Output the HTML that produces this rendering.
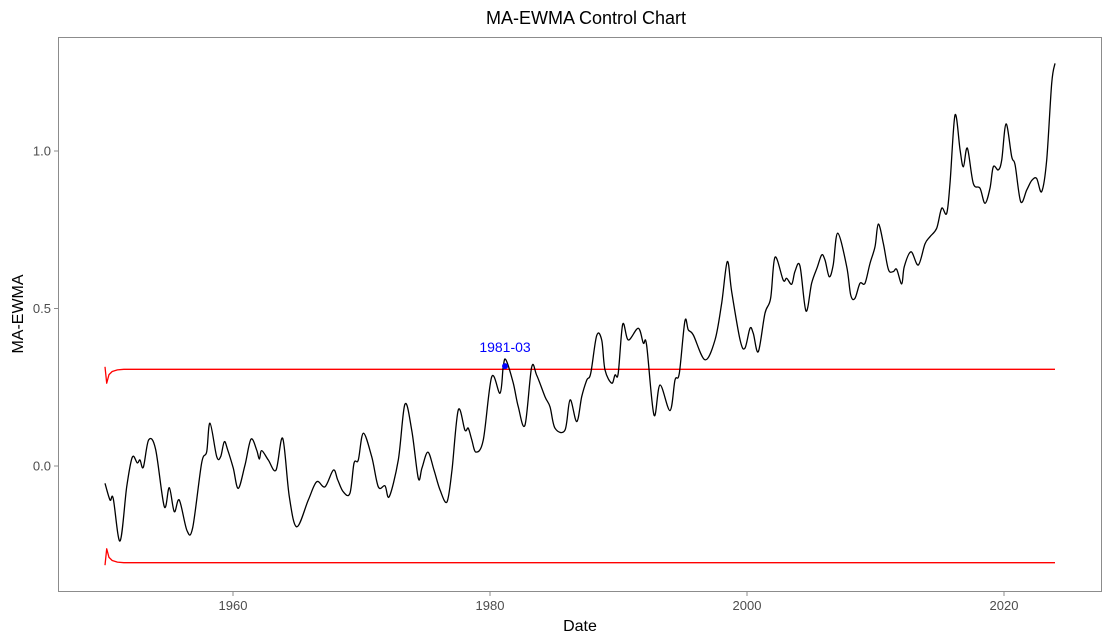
<!DOCTYPE html>
<html><head><meta charset="utf-8"><style>
body{margin:0;background:#fff}
svg{display:block;font-family:"Liberation Sans",Arial,sans-serif}
</style></head><body>
<svg id="chart" width="1112" height="644">
<rect width="1112" height="644" fill="#fff"/>
<text x="586" y="24" font-size="18" text-anchor="middle" fill="#000">MA-EWMA Control Chart</text>
<rect x="58.5" y="37.5" width="1043" height="554" fill="none" stroke="#8c8c8c" stroke-width="1"/>
<g id="xaxis"></g>
<g id="yaxis"></g>
<g id="series"></g>
<text x="580" y="631" font-size="16" text-anchor="middle" fill="#000">Date</text>
<text transform="translate(23,314) rotate(-90)" font-size="16" text-anchor="middle" fill="#000">MA-EWMA</text>
</svg>
<script>
const years=[1950.04,1950.43,1950.68,1951.21,1951.73,1952.16,1952.55,1952.76,1953.02,1953.44,1953.98,1954.65,1955.04,1955.43,1955.82,1956.42,1956.86,1957.56,1957.95,1958.21,1958.73,1959.04,1959.32,1959.59,1960.02,1960.41,1960.93,1961.40,1961.84,1962.05,1962.23,1962.75,1963.35,1963.87,1964.38,1964.96,1965.86,1966.51,1967.16,1967.81,1968.15,1968.58,1969.10,1969.42,1969.75,1970.14,1970.79,1971.31,1971.83,1972.16,1972.86,1973.38,1973.91,1974.42,1974.71,1975.17,1975.64,1976.11,1976.65,1977.04,1977.53,1978.05,1978.31,1978.58,1978.91,1979.48,1980.13,1980.78,1981.03,1981.24,1981.81,1982.20,1982.72,1983.24,1983.63,1984.28,1984.67,1985.06,1985.84,1986.23,1986.75,1987.14,1987.53,1987.84,1988.30,1988.69,1988.95,1989.47,1989.73,1989.98,1990.33,1990.76,1991.54,1991.93,1992.19,1992.76,1993.23,1994.01,1994.40,1994.73,1995.17,1995.43,1995.82,1996.73,1997.51,1998.03,1998.47,1998.81,1999.46,1999.84,2000.23,2000.49,2000.88,2001.40,2001.84,2002.18,2002.82,2003.09,2003.48,2003.73,2004.12,2004.59,2005.03,2005.47,2005.81,2006.07,2006.40,2006.71,2007.06,2007.76,2008.07,2008.40,2008.79,2009.18,2009.57,2009.96,2010.22,2010.61,2011.00,2011.38,2011.65,2012.04,2012.24,2012.76,2013.33,2013.85,2014.24,2014.76,2015.15,2015.54,2015.80,2016.19,2016.58,2016.84,2017.15,2017.61,2018.13,2018.52,2018.91,2019.17,2019.56,2019.82,2020.16,2020.60,2020.86,2021.30,2021.77,2022.15,2022.54,2022.93,2023.32,2023.71,2023.97];
const values=[-0.055,-0.108,-0.103,-0.238,-0.066,0.028,0.010,0.019,-0.004,0.083,0.053,-0.129,-0.069,-0.145,-0.108,-0.205,-0.196,0.009,0.045,0.136,0.030,0.030,0.077,0.051,-0.007,-0.071,0.003,0.085,0.051,0.022,0.049,0.019,-0.013,0.088,-0.097,-0.193,-0.108,-0.050,-0.066,-0.013,-0.044,-0.082,-0.087,0.009,0.019,0.104,0.030,-0.066,-0.063,-0.097,0.019,0.196,0.114,-0.039,-0.006,0.044,-0.013,-0.076,-0.114,-0.013,0.178,0.114,0.120,0.083,0.044,0.083,0.283,0.231,0.315,0.337,0.263,0.188,0.130,0.313,0.289,0.220,0.188,0.120,0.114,0.210,0.141,0.220,0.273,0.294,0.414,0.400,0.305,0.263,0.289,0.294,0.450,0.400,0.437,0.390,0.384,0.162,0.257,0.176,0.273,0.294,0.460,0.432,0.416,0.337,0.400,0.517,0.649,0.553,0.400,0.374,0.437,0.421,0.363,0.485,0.532,0.663,0.590,0.596,0.577,0.617,0.636,0.492,0.580,0.631,0.670,0.654,0.601,0.638,0.739,0.633,0.543,0.532,0.580,0.580,0.643,0.696,0.768,0.707,0.624,0.617,0.624,0.578,0.633,0.680,0.638,0.705,0.728,0.755,0.818,0.802,0.897,1.114,1.003,0.950,1.009,0.897,0.882,0.834,0.882,0.950,0.940,0.971,1.086,0.982,0.956,0.839,0.876,0.906,0.913,0.871,0.971,1.215,1.278];
const limitYears=[1950.04,1950.17,1950.35,1950.6,1951.0,1951.5,2023.97];
const uclValues=[0.315,0.263,0.290,0.300,0.305,0.307,0.307];
const lclValues=[-0.315,-0.263,-0.290,-0.300,-0.305,-0.307,-0.307];
const xTicks=[1960,1980,2000,2020];
const yTicks=[0.0,0.5,1.0];
const yTickLabels=["0.0","0.5","1.0"];
const highlightLabel="1981-03";
const highlightYear=1981.17;
const highlightValue=0.317;

const NS="http://www.w3.org/2000/svg";
function xs(v){return 233+(v-1960)*12.85;}
function ys(v){return 466-v*315;}
function mk(tag,attrs,parent){const e=document.createElementNS(NS,tag);for(const k in attrs)e.setAttribute(k,attrs[k]);parent.appendChild(e);return e;}
const xa=document.getElementById('xaxis'),ya=document.getElementById('yaxis'),sg=document.getElementById('series');
xTicks.forEach(t=>{
  const l=mk('line',{x1:xs(t),x2:xs(t),y1:592,y2:596,stroke:'#8c8c8c'},xa);
  
  
  const tx=mk('text',{x:xs(t),y:610,'font-size':13,'text-anchor':'middle',fill:'#4d4d4d'},xa);
  tx.textContent=t;
  
  
});
yTicks.forEach((t,i)=>{
  const l=mk('line',{x1:54,x2:58,y1:ys(t),y2:ys(t),stroke:'#8c8c8c'},ya);
  
  
  const tx=mk('text',{x:51,y:ys(t)+4.5,'font-size':13,'text-anchor':'end',fill:'#4d4d4d'},ya);
  tx.textContent=yTickLabels[i];
  
  
});
function path(xv,yv){return xv.map((x,i)=>(i?'L':'M')+xs(x).toFixed(1)+','+ys(yv[i]).toFixed(1)).join('');}
function smooth(xv,yv){
  const p=xv.map((x,i)=>[xs(x),ys(yv[i])]);
  let d='M'+p[0][0].toFixed(1)+','+p[0][1].toFixed(1);
  for(let i=0;i<p.length-1;i++){
    const p0=p[Math.max(0,i-1)],p1=p[i],p2=p[i+1],p3=p[Math.min(p.length-1,i+2)];
    const c1=[p1[0]+(p2[0]-p0[0])/6,p1[1]+(p2[1]-p0[1])/6];
    const c2=[p2[0]-(p3[0]-p1[0])/6,p2[1]-(p3[1]-p1[1])/6];
    d+='C'+c1[0].toFixed(1)+','+c1[1].toFixed(1)+' '+c2[0].toFixed(1)+','+c2[1].toFixed(1)+' '+p2[0].toFixed(1)+','+p2[1].toFixed(1);
  }
  return d;
}
const ucl=mk('path',{d:path(limitYears,uclValues),fill:'none',stroke:'#ff0000','stroke-width':1.3,'stroke-linejoin':'round'},sg);


const lcl=mk('path',{d:path(limitYears,lclValues),fill:'none',stroke:'#ff0000','stroke-width':1.3,'stroke-linejoin':'round'},sg);


const ln=mk('path',{d:smooth(years,values),fill:'none',stroke:'#000','stroke-width':1.3,'stroke-linejoin':'round'},sg);


const pt=mk('circle',{cx:xs(highlightYear),cy:ys(highlightValue),r:3,fill:'#0000ff'},sg);


const lb=mk('text',{x:xs(highlightYear),y:ys(highlightValue)-14,'font-size':14,'text-anchor':'middle',fill:'#0000ff'},sg);
lb.textContent=highlightLabel;


</script>
</body></html>
